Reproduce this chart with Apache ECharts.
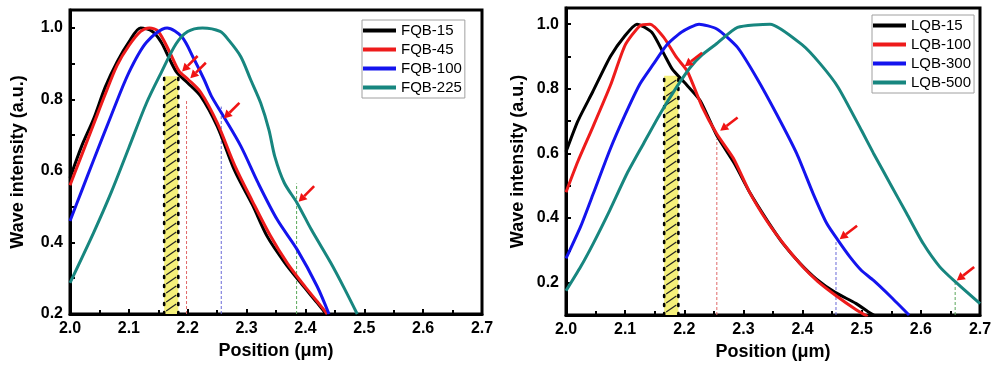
<!DOCTYPE html>
<html>
<head>
<meta charset="utf-8">
<script src="https://cdn.jsdelivr.net/npm/echarts@6/dist/echarts.min.js"></script>
<style>
  html, body { margin: 0; background: #fff; }
  #chart { width: 995px; height: 367px; }
</style>
</head>
<body>
<div id="chart"></div>
<script>
// values: [position (um), wave intensity]
const FQB_15 = [[2.00,0.58],[2.02,0.67],[2.04,0.745],[2.06,0.835],[2.08,0.905],[2.10,0.96],[2.12,1.0],[2.14,0.99],[2.155,0.96],[2.17,0.91],[2.182,0.874],[2.20,0.846],[2.222,0.809],[2.25,0.725],[2.28,0.60],[2.31,0.505],[2.335,0.417],[2.365,0.343],[2.392,0.287],[2.42,0.231],[2.435,0.20]];
const FQB_45 = [[2.00,0.56],[2.02,0.645],[2.04,0.73],[2.06,0.815],[2.08,0.895],[2.10,0.95],[2.12,0.99],[2.135,1.0],[2.15,0.99],[2.17,0.93],[2.185,0.88],[2.20,0.857],[2.222,0.82],[2.25,0.735],[2.28,0.615],[2.31,0.515],[2.34,0.42],[2.37,0.34],[2.40,0.275],[2.42,0.235],[2.437,0.20]];
const FQB_100 = [[2.00,0.46],[2.02,0.545],[2.04,0.63],[2.07,0.755],[2.10,0.875],[2.13,0.96],[2.165,1.0],[2.19,0.975],[2.21,0.915],[2.228,0.855],[2.24,0.81],[2.26,0.755],[2.29,0.67],[2.32,0.565],[2.352,0.464],[2.386,0.38],[2.42,0.277],[2.44,0.20]];
const FQB_225 = [[2.00,0.287],[2.04,0.427],[2.07,0.54],[2.10,0.665],[2.13,0.79],[2.155,0.875],[2.18,0.955],[2.20,0.99],[2.225,1.0],[2.255,0.99],[2.27,0.965],[2.29,0.92],[2.307,0.855],[2.324,0.79],[2.338,0.715],[2.348,0.64],[2.364,0.567],[2.386,0.51],[2.41,0.436],[2.443,0.343],[2.465,0.275],[2.488,0.20]];

const LQB_15 = [[2.00,0.605],[2.02,0.70],[2.045,0.79],[2.075,0.90],[2.10,0.965],[2.12,1.0],[2.145,0.975],[2.165,0.91],[2.18,0.86],[2.20,0.82],[2.227,0.763],[2.255,0.655],[2.285,0.568],[2.311,0.478],[2.34,0.393],[2.367,0.321],[2.396,0.259],[2.424,0.21],[2.455,0.17],[2.49,0.136],[2.515,0.105],[2.525,0.095]];
const LQB_100 = [[2.00,0.48],[2.02,0.575],[2.045,0.68],[2.075,0.81],[2.10,0.935],[2.125,0.995],[2.142,1.0],[2.165,0.96],[2.187,0.897],[2.205,0.855],[2.23,0.745],[2.255,0.66],[2.283,0.585],[2.311,0.478],[2.34,0.39],[2.37,0.315],[2.40,0.25],[2.425,0.205],[2.455,0.162],[2.49,0.117],[2.51,0.095]];
const LQB_300 = [[2.00,0.275],[2.025,0.375],[2.046,0.475],[2.074,0.61],[2.10,0.72],[2.125,0.815],[2.148,0.877],[2.17,0.935],[2.195,0.975],[2.225,1.0],[2.255,0.985],[2.29,0.928],[2.322,0.835],[2.356,0.722],[2.39,0.60],[2.418,0.475],[2.441,0.383],[2.46,0.331],[2.48,0.28],[2.50,0.237],[2.52,0.207],[2.55,0.155],[2.58,0.10]];
const LQB_500 = [[2.00,0.175],[2.025,0.25],[2.046,0.321],[2.074,0.424],[2.103,0.537],[2.131,0.63],[2.159,0.722],[2.187,0.805],[2.21,0.866],[2.23,0.905],[2.255,0.94],[2.29,0.99],[2.345,1.0],[2.40,0.935],[2.43,0.877],[2.46,0.805],[2.50,0.67],[2.52,0.60],[2.55,0.50],[2.576,0.414],[2.604,0.321],[2.632,0.249],[2.658,0.203],[2.70,0.135]];

const LEFT_NAMES = ['FQB-15', 'FQB-45', 'FQB-100', 'FQB-225'];
const RIGHT_NAMES = ['LQB-15', 'LQB-100', 'LQB-300', 'LQB-500'];
const LEFT_SERIES = [FQB_15, FQB_45, FQB_100, FQB_225];
const RIGHT_SERIES = [LQB_15, LQB_100, LQB_300, LQB_500];

// hatched band: [x start, x end, top]
const LEFT_BAND = [[2.160, 2.184, 0.865]];
const RIGHT_BAND = [[2.166, 2.190, 0.84]];
// dashed guides: [x, top]
const LEFT_GUIDES = [[2.198, 0.80], [2.257, 0.78], [2.385, 0.565]];
const RIGHT_GUIDES = [[2.255, 0.645], [2.4565, 0.331], [2.658, 0.205]];
// arrow tips
const LEFT_ARROWS = [[2.188, 0.874], [2.202, 0.855], [2.259, 0.743], [2.386, 0.51]];
const RIGHT_ARROWS = [[2.198, 0.866], [2.258, 0.666], [2.46, 0.331], [2.658, 0.203]];

const X_RANGE = [2.0, 2.7];
const LEFT_Y = [0.2, 1.05];
const RIGHT_Y = [0.1, 1.05];

const COLORS = ['#000000', '#ee1b1b', '#1414ee', '#17867f'];
const GUIDE_COLORS = ['#e06a6a', '#6a6ad8', '#5aa85a'];
const FONT = "'Liberation Sans', Arial, sans-serif";

const chart = echarts.init(document.getElementById('chart'));

function xAxis(gridIndex) {
  return {
    type: 'value', gridIndex, min: X_RANGE[0], max: X_RANGE[1], interval: 0.1,
    name: 'Position (\u03bcm)', nameLocation: 'middle', nameGap: 28,
    nameTextStyle: { fontFamily: FONT, fontWeight: 'bold', fontSize: 18, color: '#000' },
    axisLine: { show: true, lineStyle: { color: '#000', width: 3 } },
    axisTick: { show: true, inside: true, length: 5, lineStyle: { color: '#000', width: 2 } },
    minorTick: { show: true, splitNumber: 2, length: 4, lineStyle: { color: '#000', width: 2 } },
    splitLine: { show: false },
    axisLabel: { fontFamily: FONT, fontWeight: 'bold', fontSize: 16, color: '#000', margin: 7,
      formatter: v => v.toFixed(1) }
  };
}

function yAxis(gridIndex, range, gap) {
  return {
    type: 'value', gridIndex, min: range[0], max: range[1], interval: 0.1,
    name: 'Wave intensity (a.u.)', nameLocation: 'middle', nameGap: gap,
    nameTextStyle: { fontFamily: FONT, fontWeight: 'bold', fontSize: 18, color: '#000' },
    axisLine: { show: true, lineStyle: { color: '#000', width: 3 } },
    axisTick: { show: true, inside: true, length: 5, lineStyle: { color: '#000', width: 2 } },
    splitLine: { show: false },
    axisLabel: { fontFamily: FONT, fontWeight: 'bold', fontSize: 16, color: '#000', margin: 7,
      formatter: v => (Math.round(v * 10) % 2 === 0 ? v.toFixed(1) : '') }
  };
}

function legend(names, left, top) {
  return {
    data: names, orient: 'vertical', left, top,
    icon: 'rect', itemWidth: 33, itemHeight: 4, itemGap: 4,
    borderColor: '#a0a0a0', borderWidth: 1, padding: [3, 3, 3, 1],
    textStyle: { fontFamily: FONT, fontSize: 15, color: '#000', lineHeight: 15 }
  };
}

function bandSeries(idx, band, ymin) {
  return {
    type: 'custom', xAxisIndex: idx, yAxisIndex: idx, z: 1, silent: true, data: band,
    renderItem: (params, api) => {
      const p0 = api.coord([api.value(0), ymin]);
      const p1 = api.coord([api.value(1), api.value(2)]);
      const x = p0[0], w = p1[0] - p0[0], top = p1[1], bottom = p0[1];
      const children = [{ type: 'rect', shape: { x, y: top, width: w, height: bottom - top },
        style: { fill: '#f5f07a' } }];
      for (let yy = bottom - 3; yy - 7 > top; yy -= 9) {
        children.push({ type: 'line', shape: { x1: x + 2, y1: yy, x2: x + w - 2, y2: yy - 7 },
          style: { stroke: '#222', lineWidth: 1.2 } });
      }
      [x, x + w].forEach(ex => children.push({ type: 'line',
        shape: { x1: ex, y1: bottom, x2: ex, y2: top },
        style: { stroke: '#000', lineWidth: 2.6, lineDash: [2, 7], lineCap: 'round' } }));
      return { type: 'group', children };
    }
  };
}

function guideSeries(idx, guides, ymin) {
  return {
    type: 'custom', xAxisIndex: idx, yAxisIndex: idx, z: 2, silent: true, data: guides,
    renderItem: (params, api) => {
      const a = api.coord([api.value(0), ymin]);
      const b = api.coord([api.value(0), api.value(1)]);
      return { type: 'line', shape: { x1: a[0], y1: a[1], x2: b[0], y2: b[1] },
        style: { stroke: GUIDE_COLORS[params.dataIndex], lineWidth: 1, lineDash: [3, 2] } };
    }
  };
}

function arrowSeries(idx, tips, dir) {
  const len = Math.hypot(dir[0], dir[1]);
  const ux = dir[0] / len, uy = dir[1] / len;
  return {
    type: 'custom', xAxisIndex: idx, yAxisIndex: idx, z: 5, silent: true, data: tips,
    renderItem: (params, api) => {
      const h = api.coord([api.value(0), api.value(1)]);
      const tip = [h[0] + ux * 2, h[1] + uy * 2];
      const base = [h[0] + ux * 10, h[1] + uy * 10];
      const tail = [h[0] + ux * 24, h[1] + uy * 24];
      return { type: 'group', children: [
        { type: 'line', shape: { x1: base[0], y1: base[1], x2: tail[0], y2: tail[1] },
          style: { stroke: '#f01414', lineWidth: 2.6 } },
        { type: 'polygon', shape: { points: [tip,
            [base[0] - uy * 4.5, base[1] + ux * 4.5], [base[0] + uy * 4.5, base[1] - ux * 4.5]] },
          style: { fill: '#f01414' } }
      ] };
    }
  };
}

function curves(idx, names, list, smooth) {
  return list.map((d, i) => ({
    name: names[i], type: 'line', xAxisIndex: idx, yAxisIndex: idx, z: 3,
    data: d, smooth, symbol: 'none', color: COLORS[i],
    lineStyle: { width: 3, color: COLORS[i] }
  }));
}

chart.setOption({
  animation: false,
  backgroundColor: '#fff',
  grid: [
    { left: 70, top: 10, width: 412, height: 304, show: true, borderColor: '#000', borderWidth: 3 },
    { left: 566, top: 8, width: 414, height: 307, show: true, borderColor: '#000', borderWidth: 3 }
  ],
  xAxis: [xAxis(0), xAxis(1)],
  yAxis: [yAxis(0, LEFT_Y, 43), yAxis(1, RIGHT_Y, 39)],
  legend: [legend(LEFT_NAMES, 362, 20), legend(RIGHT_NAMES, 872, 15)],
  series: [
    bandSeries(0, LEFT_BAND, LEFT_Y[0]),
    bandSeries(1, RIGHT_BAND, RIGHT_Y[0]),
    guideSeries(0, LEFT_GUIDES, LEFT_Y[0]),
    guideSeries(1, RIGHT_GUIDES, RIGHT_Y[0]),
    ...curves(0, LEFT_NAMES, LEFT_SERIES, 0.3),
    ...curves(1, RIGHT_NAMES, RIGHT_SERIES, 0.2),
    arrowSeries(0, LEFT_ARROWS, [1, -1]),
    arrowSeries(1, RIGHT_ARROWS, [1.3, -1])
  ]
});
</script>
</body>
</html>
